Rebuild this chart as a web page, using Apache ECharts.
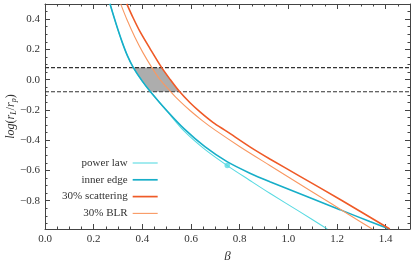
<!DOCTYPE html>
<html><head><meta charset="utf-8">
<script src="https://cdn.jsdelivr.net/npm/echarts@6/dist/echarts.min.js"></script>
<style>html,body{margin:0;padding:0;background:#fff}#c{width:415px;height:260px}</style>
</head><body><div id="c"></div>
<script>
// ---- data ----
const powerLawX = [0.267, 0.292, 0.316, 0.339, 0.363, 0.399, 0.435, 0.501, 0.571, 0.657, 0.749, 0.842, 0.924, 1.048, 1.160];
const powerLawY = [0.501, 0.369, 0.253, 0.157, 0.080, -0.008, -0.083, -0.208, -0.339, -0.461, -0.568, -0.666, -0.751, -0.874, -0.987];
const innerEdgeX = [0.267, 0.292, 0.316, 0.339, 0.363, 0.399, 0.435, 0.501, 0.571, 0.657, 0.748, 0.842, 0.924, 1.089, 1.212, 1.335, 1.415];
const innerEdgeY = [0.501, 0.369, 0.253, 0.157, 0.080, -0.008, -0.083, -0.206, -0.324, -0.443, -0.542, -0.618, -0.674, -0.780, -0.859, -0.938, -0.987];
const scatteringX = [0.336, 0.362, 0.390, 0.431, 0.479, 0.514, 0.552, 0.596, 0.637, 0.690, 0.747, 0.842, 0.924, 1.048, 1.213, 1.417];
const scatteringY = [0.501, 0.409, 0.319, 0.207, 0.081, 0.002, -0.077, -0.153, -0.213, -0.282, -0.342, -0.444, -0.524, -0.639, -0.792, -0.987];
const blrX = [0.311, 0.337, 0.370, 0.403, 0.438, 0.472, 0.514, 0.555, 0.596, 0.645, 0.698, 0.801, 0.924, 1.089, 1.253, 1.345];
const blrY = [0.501, 0.396, 0.279, 0.177, 0.083, 0.002, -0.075, -0.144, -0.204, -0.269, -0.332, -0.443, -0.567, -0.732, -0.896, -0.987];
const markerX = [0.749];
const markerY = [-0.568];
const bandLevels = [0.08, -0.08];
const shadeX = [0.363, 0.399, 0.434, 0.551, 0.514, 0.479];
const shadeY = [0.08, -0.008, -0.08, -0.08, 0.002, 0.08];
const seriesNames = ['power law', 'inner edge', '30% scattering', '30% BLR'];
const xTickLabels = [0.0, 0.2, 0.4, 0.6, 0.8, 1.0, 1.2, 1.4];
const yTickLabels = [-0.8, -0.6, -0.4, -0.2, 0.0, 0.2, 0.4];
const xRange = [0, 1.5];
const yRange = [-0.987, 0.5];
// ---------------------------------------

const zip = (xs, ys) => xs.map((x, i) => [x, ys[i]]);
const xMinor = []; for (let k = 0; k <= 30; k++) xMinor.push(+(k * 0.05).toFixed(2));
const yMinor = []; for (let k = -19; k <= 10; k++) yMinor.push(+(k * 0.05).toFixed(2));

const FONT = 'Liberation Serif';
const AX = '#444';
const fmt = v => v.toFixed(1).replace('-', '\u2212');

function mkAxis(kind, pos, ticks, len, withLine, withLabel) {
  const range = kind === 'x' ? xRange : yRange;
  return {
    type: 'value', min: range[0], max: range[1], position: pos,
    axisLine: { show: withLine, onZero: false, lineStyle: { color: AX, width: 1 } },
    axisTick: { show: true, inside: true, length: len, customValues: ticks, lineStyle: { color: AX, width: 1 } },
    axisLabel: { show: withLabel, customValues: ticks, formatter: fmt, margin: 5,
      fontFamily: FONT, fontSize: 11, color: '#333' },
    splitLine: { show: false }, minorTick: { show: false }, minorSplitLine: { show: false }
  };
}

const xAxes = [
  mkAxis('x', 'bottom', xTickLabels, 5, true, true),
  mkAxis('x', 'top', xTickLabels, 5, true, false),
  mkAxis('x', 'bottom', xMinor, 2.5, false, false),
  mkAxis('x', 'top', xMinor, 2.5, false, false)
];
Object.assign(xAxes[0], { name: 'β', nameLocation: 'middle', nameGap: 13,
  nameTextStyle: { fontFamily: FONT, fontStyle: 'italic', fontSize: 13, color: '#333' } });
const yAxes = [
  mkAxis('y', 'left', yTickLabels, 5, true, true),
  mkAxis('y', 'right', yTickLabels, 5, true, false),
  mkAxis('y', 'left', yMinor, 2.5, false, false),
  mkAxis('y', 'right', yMinor, 2.5, false, false)
];

const colors = ['#58dae2', '#17aec8', '#ef5a27', '#f99862'];
const widths = [1.1, 1.6, 1.6, 1.1];
const lines = [zip(powerLawX, powerLawY), zip(innerEdgeX, innerEdgeY), zip(scatteringX, scatteringY), zip(blrX, blrY)];

const series = [];
series.push({
  type: 'custom', name: 'shade', silent: true, z: 1,
  data: zip(shadeX, shadeY), encode: { x: 0, y: 1 },
  renderItem: function (params, api) {
    if (params.dataIndex !== 0) return null;
    const pts = shadeX.map((x, i) => api.coord([x, shadeY[i]]));
    return { type: 'polygon', shape: { points: pts, smooth: 0 }, style: { fill: '#adadad' } };
  }
});
bandLevels.forEach((lv, i) => series.push({
  type: 'line', name: 'band' + i, data: [[xRange[0], lv], [xRange[1], lv]], symbol: 'none', z: 3,
  lineStyle: { color: '#333', width: 1.2, type: [4, 2] }, silent: true
}));
lines.forEach((d, i) => series.push({
  type: 'line', name: seriesNames[i], data: d, symbol: 'none', smooth: 0.3, clip: true, z: 4,
  color: colors[i], lineStyle: { color: colors[i], width: widths[i] }
}));
series.push({
  type: 'scatter', name: 'marker', data: zip(markerX, markerY), symbol: 'circle', symbolSize: 5.5, z: 5,
  itemStyle: { color: colors[0] }
});

const thin = 'path://M0,0H25V1.1H0Z';
const thick = 'path://M0,0H25V1.7H0Z';
const chart = echarts.init(document.getElementById('c'), null, { renderer: 'canvas' });
chart.setOption({
  animation: false,
  backgroundColor: '#fff',
  grid: { left: 45, right: 5, top: 4, bottom: 31, containLabel: false, outerBoundsMode: 'none' },
  xAxis: xAxes,
  yAxis: yAxes,
  graphic: [{
    type: 'text', x: 11, y: 116.5, rotation: Math.PI / 2, silent: true,
    style: {
      text: '{i|log}({i|r}{s|L}/{i|r}{s|p})', align: 'center', verticalAlign: 'middle',
      fontFamily: FONT, fontSize: 12, fill: '#333',
      rich: { i: { fontFamily: FONT, fontStyle: 'italic', fontSize: 12, fill: '#333' },
              s: { fontFamily: FONT, fontStyle: 'italic', fontSize: 8, fill: '#333', verticalAlign: 'bottom', padding: [6, 0, 0, 0] } }
    }
  }],
  legend: {
    show: true,
    data: seriesNames.map((n, i) => ({ name: n, icon: widths[i] > 1.3 ? thick : thin })),
    orient: 'vertical', align: 'right', left: 57, top: 152.5, symbolKeepAspect: true,
    itemWidth: 25, itemHeight: 4, itemGap: 5.8,
    textStyle: { fontFamily: FONT, fontSize: 11, color: '#333' }
  },
  series: series
});
</script></body></html>
